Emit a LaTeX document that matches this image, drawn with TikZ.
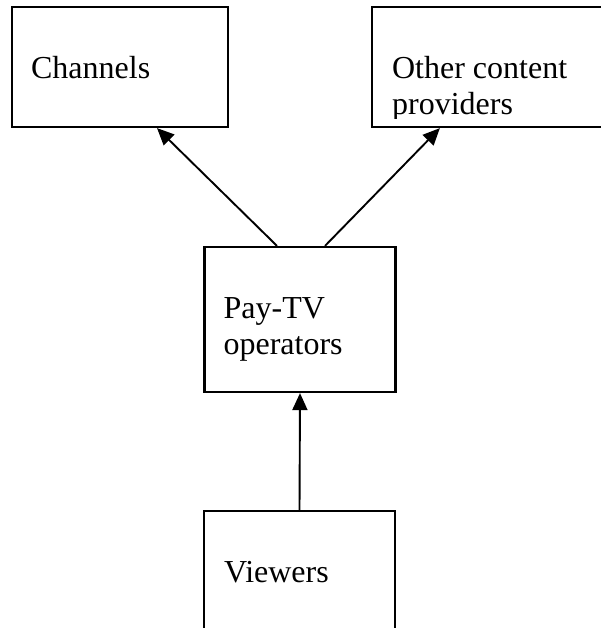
\documentclass[tikz,border=0pt]{standalone}
\usepackage{fontspec}
\setmainfont{Liberation Serif}
\usetikzlibrary{positioning,arrows.meta}

\begin{document}
\begin{tikzpicture}[x=1pt, y=-1pt,
    box/.style={draw, line width=2.2pt, rectangle, inner sep=0pt},
    lbl/.style={inner sep=0pt, align=left, font=\fontsize{32}{36}\selectfont},
    link/.style={line width=1.9pt, -{Triangle[length=17pt,width=15pt]}}]
    \clip (0,0) rectangle (601,628);

    % Create the boxes
    \node[box, minimum width=216pt, minimum height=120pt] (chan) at (120,67) {};
    \node[box, minimum width=258pt, minimum height=120pt] (other) at (501,67) {};
    \node[box, minimum width=191pt, minimum height=145pt] (pay) at (300,319.5) {};
    \node[box, minimum width=191pt, minimum height=145pt] (view) at (299.5,583.5) {};

    % Add the texts (base is the last line)
    \node[lbl, below right=73pt and 20pt of chan.north west, anchor=base west] (chantxt) {Channels};
    \begin{scope}
        \clip (other.north west) rectangle ([yshift=10pt]other.south east);
        \node[lbl, below right=109pt and 21pt of other.north west, anchor=base west] (othertxt) {Other content\\providers};
    \end{scope}
    \node[lbl, below right=109pt and 20pt of pay.north west, anchor=base west] (paytxt) {Pay-TV\\operators};
    \node[lbl, below right=73pt and 21pt of view.north west, anchor=base west] (viewtxt) {Viewers};

    % Draw arrows
    \draw[link] ([xshift=-23pt]pay.north) -- ([xshift=37pt]chan.south);
    \draw[link] ([xshift=25pt]pay.north) -- ([xshift=69pt]other.south west);
    \draw[link] (view.north) -- (pay.south);
\end{tikzpicture}
\end{document}
